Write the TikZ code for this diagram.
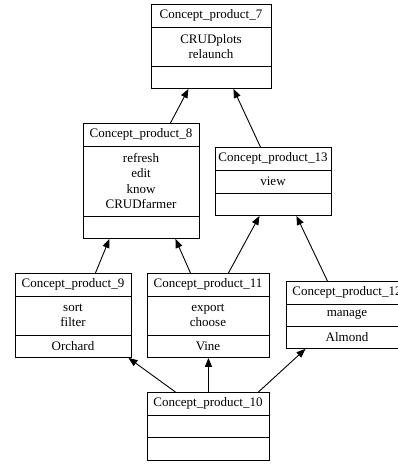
\documentclass[tikz,border=0pt]{standalone}
\usepackage{fontspec}
\setmainfont{Liberation Serif}
\usetikzlibrary{arrows.meta}
\tikzset{
  box/.style={draw, line width=0.9pt, inner sep=0pt, anchor=north west},
  sep/.style={line width=0.9pt},
  txt/.style={font=\fontsize{13}{15.5}\selectfont, align=center, inner sep=0pt},
  edge/.style={line width=0.9pt, -{Triangle[length=9pt,width=7pt]}}
}
\begin{document}
\begin{tikzpicture}[x=1pt,y=-1pt]
\useasboundingbox (0,0) rectangle (398,464);
\clip (0,0) rectangle (398,464);
% Concept_product_7
\node[box, minimum width=120pt, minimum height=84pt] (n7) at (151,4) {};
\draw[sep] (151,27) -- (271,27) (151,66) -- (271,66);
\node[txt] (t7) at (211,15.5) {Concept\_product\_7};
\node[txt] (m7) at (211,46.5) {CRUDplots\\relaunch};
% Concept_product_8
\node[box, minimum width=116pt, minimum height=115pt] (n8) at (83,123) {};
\draw[sep] (83,146) -- (199,146) (83,216) -- (199,216);
\node[txt] (t8) at (141,134.5) {Concept\_product\_8};
\node[txt] (m8) at (141,181) {refresh\\edit\\know\\CRUDfarmer};
% Concept_product_13
\node[box, minimum width=116pt, minimum height=68pt] (n13) at (215,147) {};
\draw[sep] (215,170) -- (331,170) (215,193) -- (331,193);
\node[txt] (t13) at (273,158.5) {Concept\_product\_13};
\node[txt] (m13) at (273,181.5) {view};
% Concept_product_9
\node[box, minimum width=116pt, minimum height=84pt] (n9) at (15,273) {};
\draw[sep] (15,296) -- (131,296) (15,335) -- (131,335);
\node[txt] (t9) at (73,284.5) {Concept\_product\_9};
\node[txt] (m9) at (73,315.5) {sort\\filter};
\node[txt] (b9) at (73,346) {Orchard};
% Concept_product_11
\node[box, minimum width=122pt, minimum height=84pt] (n11) at (147,273) {};
\draw[sep] (147,296) -- (269,296) (147,335) -- (269,335);
\node[txt] (t11) at (208,284.5) {Concept\_product\_11};
\node[txt] (m11) at (208,315.5) {export\\choose};
\node[txt] (b11) at (208,346) {Vine};
% Concept_product_12
\node[box, minimum width=122pt, minimum height=67pt] (n12) at (286,281) {};
\draw[sep] (286,304) -- (408,304) (286,326) -- (408,326);
\node[txt] (t12) at (347,292.5) {Concept\_product\_12};
\node[txt] (m12) at (347,315) {manage};
\node[txt] (b12) at (347,337) {Almond};
% Concept_product_10
\node[box, minimum width=122pt, minimum height=68pt] (n10) at (147,392) {};
\draw[sep] (147,415) -- (269,415) (147,437) -- (269,437);
\node[txt] (t10) at (208,403.5) {Concept\_product\_10};
% edges
\draw[edge] ([xshift=29pt]n8.north) -- ([xshift=-23pt]n7.south);
\draw[edge] ([xshift=-13pt]n13.north) -- ([xshift=22pt]n7.south);
\draw[edge] ([xshift=22pt]n9.north) -- ([xshift=-32pt]n8.south);
\draw[edge] ([xshift=-18pt]n11.north) -- ([xshift=34pt]n8.south);
\draw[edge] ([xshift=20pt]n11.north) -- ([xshift=-14pt]n13.south);
\draw[edge] ([xshift=-20pt]n12.north) -- ([xshift=23pt]n13.south);
\draw[edge] ([xshift=-33pt]n10.north) -- ([xshift=55pt]n9.south);
\draw[edge] (n10.north) -- (n11.south);
\draw[edge] ([xshift=50pt]n10.north) -- ([xshift=-42pt]n12.south);
\end{tikzpicture}
\end{document}
